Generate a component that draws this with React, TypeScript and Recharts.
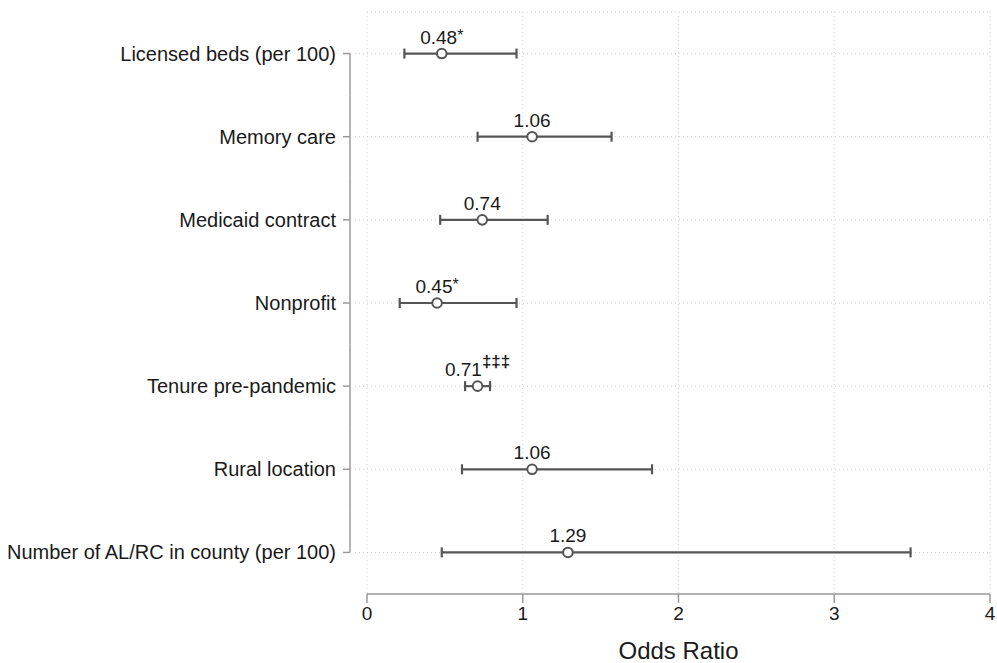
import React from 'react';
import {
  ScatterChart, Scatter, XAxis, YAxis, CartesianGrid, ErrorBar, LabelList,
} from 'recharts';

// ── Data ─────────────────────────────────────────────────────────────

const categories = [
  'Licensed beds (per 100)',
  'Memory care',
  'Medicaid contract',
  'Nonprofit',
  'Tenure pre-pandemic',
  'Rural location',
  'Number of AL/RC in county (per 100)',
];
const oddsRatios = [0.48, 1.06, 0.74, 0.45, 0.71, 1.06, 1.29];
const ciLow = [0.24, 0.71, 0.47, 0.21, 0.63, 0.61, 0.48];
const ciHigh = [0.96, 1.57, 1.16, 0.96, 0.79, 1.83, 3.49];
const marks = ['*', '', '', '*', '‡‡‡', '', ''];
const xTicks = [0, 1, 2, 3, 4];

const data = categories.map((name, i) => ({
  name,
  or: oddsRatios[i],
  err: [oddsRatios[i] - ciLow[i], ciHigh[i] - oddsRatios[i]],
  label: oddsRatios[i].toFixed(2),
  mark: marks[i],
}));

const FONT = '"Liberation Sans", Arial, sans-serif';
const INK = '#555';
const AXIS = '#9a9a9a';
const W = 997;
const H = 663;
const TOP = 12;
const PLOT_BOTTOM = 594;
const STEP = (PLOT_BOTTOM - TOP) / categories.length;

// ── Custom pieces ────────────────────────────────────────────────────

function CategoryTick(props: any) {
  const { x, y, payload } = props;
  const idx = categories.indexOf(payload.value);
  const last = categories.length - 1;
  const axisX = x - 17;
  const y1 = idx === 0 ? y : y - STEP / 2;
  const y2 = idx === last ? y : y + STEP / 2;
  return (
    <g>
      <line x1={x - 12} x2={x} y1={y} y2={y} stroke="#ccc" strokeDasharray="1 3" />
      <line x1={axisX} x2={axisX} y1={y1} y2={y2} stroke={AXIS} strokeWidth={1.5} />
      <line x1={axisX - 7} x2={axisX} y1={y} y2={y} stroke={AXIS} strokeWidth={1.5} />
      <text x={axisX - 14} y={y} dy="0.35em" textAnchor="end" fontSize={20} fill="#1a1a1a" fontFamily={FONT}>
        {payload.value}
      </text>
    </g>
  );
}

function HollowDot(props: any) {
  const { cx, cy } = props;
  return <circle cx={cx} cy={cy} r={4.8} fill="#fff" stroke={INK} strokeWidth={2} />;
}

function PointLabel(props: any) {
  const { x, y, width, height, index } = props;
  const cx = x + (width || 0) / 2;
  const cy = y + (height || 0) / 2;
  const d = data[index];
  const sup = d.mark === '‡‡‡';
  return (
    <text x={cx} y={cy - 10} textAnchor="middle" fontSize={19} fill="#1a1a1a" fontFamily={FONT}>
      {d.label}
      {d.mark && (
        <tspan fontSize={sup ? 17 : 16} fontWeight={sup ? 'bold' : 'normal'} dy={sup ? -9 : -3}>{d.mark}</tspan>
      )}
    </text>
  );
}

// ── Chart ────────────────────────────────────────────────────────────

export default function App() {
  return (
    <div style={{ position: 'absolute', left: 0, top: 0, width: W, height: H, background: '#fff' }}>
      <ScatterChart
        width={W}
        height={H}
        margin={{ top: TOP, right: 7, bottom: H - PLOT_BOTTOM - 67, left: 0 }}
      >
        <CartesianGrid
          stroke="#cfcfcf"
          strokeDasharray="1 3"
          horizontal={true}
          vertical={true}
        />
        <XAxis
          type="number"
          dataKey="or"
          domain={[0, 4]}
          ticks={xTicks}
          interval={0}
          height={67}
          stroke={AXIS}
          axisLine={{ stroke: AXIS, strokeWidth: 1.5 }}
          tickLine={{ stroke: AXIS, strokeWidth: 1.5 }}
          tickSize={9}
          tickMargin={4}
          tick={{ fontSize: 19, fill: '#1a1a1a', fontFamily: FONT }}
          label={{
            value: 'Odds Ratio',
            position: 'insideBottom',
            offset: 2,
            style: { fontSize: 24, fill: '#1a1a1a', fontFamily: FONT },
          }}
        />
        <YAxis
          type="category"
          dataKey="name"
          width={367}
          reversed
          axisLine={false}
          tickLine={false}
          tickSize={0}
          tickMargin={0}
          interval={0}
          tick={<CategoryTick />}
        />
        <Scatter data={data} shape={<HollowDot />} isAnimationActive={false}>
          <ErrorBar
            dataKey="err"
            direction="x"
            width={5}
            stroke={INK}
            strokeWidth={2.2}
          />
          <LabelList dataKey="label" content={<PointLabel />} />
        </Scatter>
      </ScatterChart>
    </div>
  );
}
